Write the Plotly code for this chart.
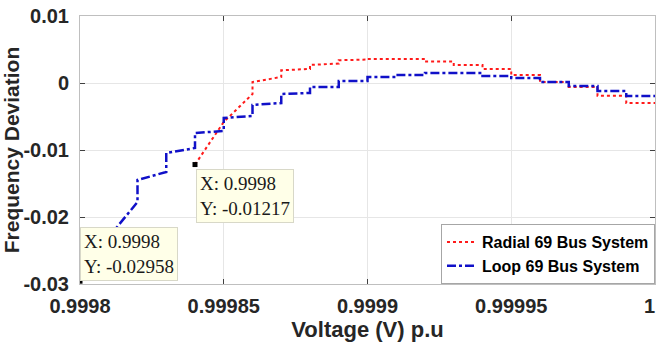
import plotly.graph_objects as go

# ---------------- data ----------------
radial_v = [0.99984, 0.99985, 0.99986, 0.99986, 0.99987, 0.99987, 0.99988, 0.99988,
            0.99989, 0.99989, 0.99990, 0.99990, 0.99992, 0.99992, 0.99993, 0.99993,
            0.99994, 0.99994, 0.99995, 0.99995, 0.99996, 0.99996, 0.99997, 0.99997,
            0.99998, 0.99998, 0.99999, 0.99999, 1.0]
radial_f = [-0.01217, -0.00582, -0.00164, 0.00015, 0.0009, 0.0019, 0.0021, 0.0027,
            0.0029, 0.0034, 0.0035, 0.0036, 0.0036, 0.0032, 0.0032, 0.0027,
            0.0027, 0.0021, 0.0021, 0.0012, 0.0012, 0.00015, 0.00015, -0.0006,
            -0.0006, -0.0019, -0.0019, -0.0030, -0.0030]

loop_v = [0.9998, 0.9998, 0.99981, 0.99982, 0.99982, 0.99983, 0.99983, 0.99984,
          0.99984, 0.99985, 0.99985, 0.99986, 0.99986, 0.99987, 0.99987, 0.99988,
          0.99988, 0.99989, 0.99989, 0.99990, 0.99990, 0.99991, 0.99991, 0.99992,
          0.99992, 0.99994, 0.99994, 0.99995, 0.99995, 0.99996, 0.99996, 0.99997,
          0.99997, 0.99998, 0.99998, 0.99999, 0.99999, 1.0]
loop_f = [-0.02958, -0.0279, -0.0230, -0.01776, -0.01448, -0.01328, -0.01045, -0.0097,
          -0.00746, -0.00716, -0.00522, -0.00493, -0.00328, -0.00299, -0.00164, -0.00149,
          -0.0006, -0.0006, 0.0003, 0.0003, 0.0009, 0.0009, 0.0012, 0.0012,
          0.0015, 0.0015, 0.00104, 0.00104, 0.00075, 0.00075, 0.00015, 0.00015,
          -0.00045, -0.00045, -0.0012, -0.0012, -0.00194, -0.00194]

tip_v = [0.99984, 0.9998]
tip_f = [-0.01217, -0.02958]
tip_labels = ["X: 0.9998<br>Y: -0.01217", "X: 0.9998<br>Y: -0.02958"]

x_tickvals = [0.9998, 0.99985, 0.9999, 0.99995, 1.0]
x_ticktext = ["0.9998", "0.99985", "0.9999", "0.99995", "1&nbsp;&nbsp;"]
y_tickvals = [-0.03, -0.02, -0.01, 0, 0.01]
y_ticktext = ["-0.03", "-0.02", "-0.01", "0", "0.01"]

series_names = ["Radial 69 Bus System", "Loop 69 Bus System"]

# ---------------- figure ----------------
SANS = "Liberation Sans, Arial, sans-serif"
SERIF = "Liberation Serif, Times New Roman, serif"
TXT = "#262626"

fig = go.Figure()
fig.add_trace(go.Scatter(x=radial_v, y=radial_f, mode="lines",
                         name="<b>" + series_names[0] + "</b>",
                         line=dict(color="#ff1a1a", width=2, dash="dot")))
fig.add_trace(go.Scatter(x=loop_v, y=loop_f, mode="lines",
                         name="<b>" + series_names[1] + "</b>",
                         line=dict(color="#1010c8", width=2.5, dash="dashdot")))
fig.add_trace(go.Scatter(x=tip_v, y=tip_f, mode="markers", showlegend=False,
                         marker=dict(symbol="square", size=5, color="black")))

anchors = [dict(xanchor="left", yanchor="top", xshift=1, yshift=-4),
           dict(xanchor="left", yanchor="bottom", xshift=0, yshift=0)]
for xv, yv, txt, a in zip(tip_v, tip_f, tip_labels, anchors):
    fig.add_annotation(x=xv, y=yv, text=txt, showarrow=False, align="left",
                       font=dict(family=SERIF, size=19, color="#1a1a1a"),
                       bgcolor="#ffffe8", bordercolor="#d8d8c8", borderwidth=1,
                       borderpad=3, **a)

fig.update_layout(
    width=657, height=347,
    margin=dict(l=80, r=2, t=16, b=63, autoexpand=False),
    paper_bgcolor="white", plot_bgcolor="white",
    showlegend=True,
    legend=dict(x=1, y=0, xanchor="right", yanchor="bottom",
                bgcolor="white", bordercolor="#a6a6a6", borderwidth=1,
                font=dict(family=SANS, size=16, color="black"),
                itemwidth=30, tracegroupgap=0),
)
fig.update_xaxes(
    range=[0.9998, 1.0], tickvals=x_tickvals, ticktext=x_ticktext,
    automargin=False, ticklabeloverflow="allow",
    showgrid=True, gridcolor="#e6e6e6", gridwidth=1, zeroline=False,
    showline=True, linecolor="#bfbfbf", linewidth=1, mirror="ticks",
    ticks="inside", ticklen=5, tickcolor="#404040", ticklabelstandoff=4,
    tickfont=dict(family=SANS, size=20, color=TXT, weight="bold"),
    title=dict(text="Voltage (V) p.u", standoff=2,
               font=dict(family=SANS, size=22, color=TXT, weight="bold")),
)
fig.update_yaxes(
    range=[-0.03, 0.01], tickvals=y_tickvals, ticktext=y_ticktext,
    automargin=False, ticklabeloverflow="allow",
    showgrid=True, gridcolor="#e6e6e6", gridwidth=1, zeroline=False,
    showline=True, linecolor="#bfbfbf", linewidth=1, mirror="ticks",
    ticks="inside", ticklen=5, tickcolor="#404040", ticklabelstandoff=6,
    tickfont=dict(family=SANS, size=20, color=TXT, weight="bold"),
    title=dict(text="Frequency Deviation", standoff=2,
               font=dict(family=SANS, size=21, color=TXT, weight="bold")),
)

fig.write_html("out.html", config={"displayModeBar": False},
               post_script="document.body.style.margin='0';")
